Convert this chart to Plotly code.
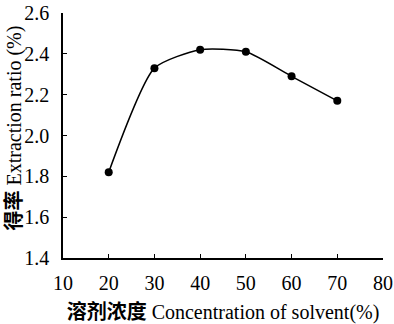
import plotly.graph_objects as go

concentration = [20, 30, 40, 50, 60, 70]
extraction_ratio = [1.82, 2.33, 2.42, 2.41, 2.29, 2.17]
x_ticks = [10, 20, 30, 40, 50, 60, 70, 80]
y_ticks = [1.4, 1.6, 1.8, 2.0, 2.2, 2.4, 2.6]

FONT = "Liberation Serif, Noto Sans CJK SC"

fig = go.Figure()
fig.add_trace(go.Scatter(
    x=concentration, y=extraction_ratio, mode="lines+markers",
    line=dict(color="black", width=1.5, shape="spline", smoothing=0.6),
    marker=dict(color="black", size=8),
    showlegend=False,
))
fig.update_layout(
    width=394, height=324,
    margin=dict(l=63, r=11, t=13, b=66),
    paper_bgcolor="white", plot_bgcolor="white",
    font=dict(family=FONT, color="black", size=16),
)
fig.update_xaxes(
    range=[10, 80], tickvals=x_ticks, ticktext=[str(v) for v in x_ticks],
    showline=True, linecolor="black", linewidth=1.5,
    ticks="inside", ticklen=4, tickcolor="black", showgrid=False, zeroline=False,
    tickfont=dict(size=20, color="black"), ticklabelstandoff=6, automargin=False,
    title=dict(text="<b>溶剂浓度</b> Concentration of solvent(%)",
               font=dict(size=20, color="black"), standoff=12),
)
fig.update_yaxes(
    range=[1.4, 2.6], tickvals=y_ticks, ticktext=[f"{v:.1f}" for v in y_ticks],
    showline=True, linecolor="black", linewidth=1.5,
    ticks="inside", ticklen=4, tickcolor="black", showgrid=False, zeroline=False,
    tickfont=dict(size=20, color="black"), ticklabelstandoff=8, automargin=False,
)
fig.add_annotation(
    text="<b>得率</b> Extraction ratio (%)", textangle=-90,
    xref="paper", yref="paper", x=0, y=0.5, xanchor="center", yanchor="middle",
    xshift=-49, yshift=7, showarrow=False,
    font=dict(size=20, color="black", family=FONT),
)
fig.write_html("out.html")
